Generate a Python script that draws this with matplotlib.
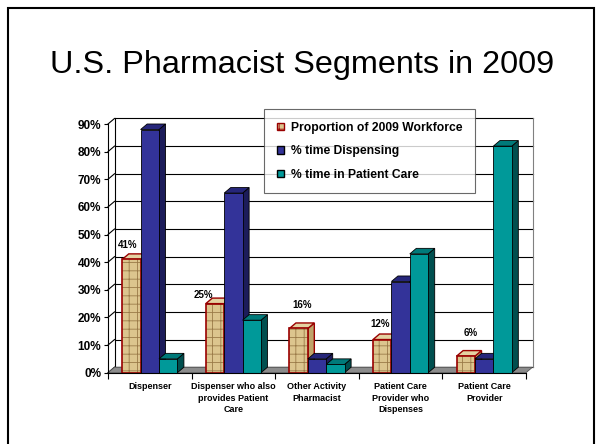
import matplotlib.pyplot as plt
from matplotlib.patches import Patch, Rectangle

plt.rcParams['font.family'] = ['Liberation Sans', 'DejaVu Sans']
plt.rcParams['hatch.linewidth'] = 0.6

categorias = ['Dispenser', 'Dispenser who also\nprovides Patient\nCare', 'Other Activity\nPharmacist',
              'Patient Care\nProvider who\nDispenses', 'Patient Care\nProvider']
series = ['Proportion of 2009 Workforce', '% time Dispensing', '% time in Patient Care']
proporcion = [41, 25, 16, 12, 6]
dispensando = [88, 65, 5, 33, 5]
cuidado = [5, 19, 3, 43, 82]

# colores: frente, arriba, costado, borde
estilos = [
    ('#dcc58e', '#e4d2a2', '#bfa46a', '#990000'),
    ('#333399', '#26267a', '#1c1c5a', '#000000'),
    ('#009999', '#007a7a', '#004f4f', '#000000'),
]
# desplazamiento de las etiquetas de datos (x en categorias, y en %)
etiq_dx = [-0.04, -0.14, 0.04, -0.03, 0.06]
etiq_dy = [5.2, 3.1, 8.5, 5.6, 8.4]

W = 0.22      # ancho de barra
DX = 0.078    # profundidad en x
DY = 2.0      # profundidad en y

fig = plt.figure(figsize=(5.96, 4.44), dpi=100)
ax = fig.add_axes([108 / 596, (444 - 372.7) / 444, (526 - 108) / 596, (372.7 - 124) / 444])
ax.patch.set_visible(False)
ax.set_xlim(0, 5)
ax.set_ylim(0, 90)

# pared del fondo, piso y grilla
ax.add_patch(Rectangle((DX, DY), 5, 90, facecolor='white', edgecolor='none', zorder=0.2, clip_on=False))
for v in range(0, 100, 10):
    ax.plot([DX, 5 + DX], [v + DY, v + DY], color='black', lw=0.8, zorder=0.4, clip_on=False)
    ax.plot([0, DX], [v, v + DY], color='black', lw=0.8, zorder=0.4, clip_on=False)
ax.plot([DX, DX], [DY, 90 + DY], color='black', lw=0.8, zorder=0.4, clip_on=False)
ax.plot([5 + DX, 5 + DX], [DY, 90 + DY], color='#808080', lw=0.8, zorder=0.4, clip_on=False)
ax.fill([0, 5, 5 + DX, DX], [0, 0, DY, DY], facecolor='#8c8c8c', edgecolor='#555555', lw=0.6,
        zorder=0.5, clip_on=False)

valores = [proporcion, dispensando, cuidado]
for i in range(len(categorias)):
    for k, vals in enumerate(valores):
        v = vals[i]
        frente, arriba, costado, borde = estilos[k]
        x0 = i + 0.5 + (k - 1) * W - W / 2
        ax.fill([x0 + W, x0 + W + DX, x0 + W + DX, x0 + W], [0, DY, v + DY, v],
                facecolor=costado, edgecolor=borde, lw=1.0 if k == 0 else 0.6, clip_on=False)
        ax.fill([x0, x0 + W, x0 + W + DX, x0 + DX], [v, v, v + DY, v + DY],
                facecolor=arriba, edgecolor=borde, lw=1.0 if k == 0 else 0.6, clip_on=False)
        if k == 0:
            ax.bar(x0, v, W, align='edge', color=frente, edgecolor='#9a7a48', lw=0, hatch='++')
            ax.bar(x0, v, W, align='edge', fill=False, edgecolor=borde, lw=1.2)
        else:
            ax.bar(x0, v, W, align='edge', color=frente, edgecolor=borde, lw=0.6)

for i, v in enumerate(proporcion):
    x0 = i + 0.5 - W
    ax.text(x0 + etiq_dx[i], v + etiq_dy[i], f'{v}%', ha='center', va='center',
            fontsize=7, fontweight='bold')

# ejes
ax.set_yticks(range(0, 100, 10))
ax.set_yticklabels([f'{v}%' for v in range(0, 100, 10)], fontsize=8.5, fontweight='bold')
ax.tick_params(axis='y', length=3, width=0.8, pad=2)
ax.set_xticks([i + 0.5 for i in range(len(categorias))])
ax.set_xticklabels(categorias, fontsize=6.5, fontweight='bold', linespacing=1.3)
ax.tick_params(axis='x', which='major', length=0, pad=7)
ax.set_xticks(range(len(categorias) + 1), minor=True)
ax.tick_params(axis='x', which='minor', length=4, width=0.8, direction='out')
for lado in ['top', 'right']:
    ax.spines[lado].set_visible(False)
for lado in ['left', 'bottom']:
    ax.spines[lado].set_linewidth(0.8)

# leyenda
manejadores = [Patch(facecolor=estilos[0][0], edgecolor=estilos[0][3], hatch='++'),
               Patch(facecolor=estilos[1][0], edgecolor='black'),
               Patch(facecolor=estilos[2][0], edgecolor='black')]
leg = fig.legend(manejadores, series, loc='upper left', bbox_to_anchor=(264 / 596, (444 - 109) / 444),
                 prop={'weight': 'bold', 'size': 8.7}, frameon=True, fancybox=False,
                 edgecolor='#444444', handlelength=0.6, handleheight=0.6, handletextpad=0.55,
                 labelspacing=0.95, borderpad=1.05, borderaxespad=0)
leg.get_frame().set_linewidth(0.8)
leg.set_zorder(5)

# titulo y marco de la diapositiva
fig.text(302 / 596, (444 - 73.3) / 444, 'U.S. Pharmacist Segments in 2009', ha='center',
         va='baseline', fontsize=23.3)
fig.add_artist(Rectangle((8 / 596, -0.1), (594 - 8) / 596, 0.1 + (444 - 8.5) / 444,
                         transform=fig.transFigure, fill=False, edgecolor='black', lw=1.5))

fig.savefig('out.png', dpi=100)
